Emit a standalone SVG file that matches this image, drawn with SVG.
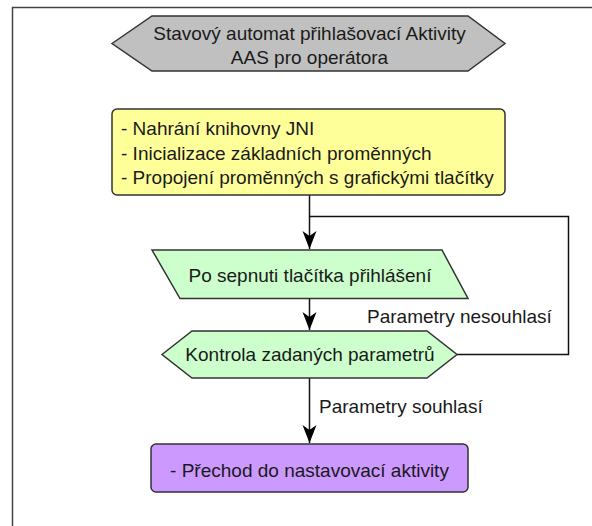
<svg xmlns="http://www.w3.org/2000/svg" width="592" height="526" viewBox="0 0 592 526">
<style>
.t{font-family:"Liberation Sans",Arial,sans-serif;font-size:19px;fill:#1a1a1a}
.c{text-anchor:middle}
.shape{stroke:#333;stroke-width:1.5}
.edge{fill:none;stroke:#111;stroke-width:1.5}
</style>
<defs>
<marker id="arr" markerUnits="userSpaceOnUse" markerWidth="20" markerHeight="16" viewBox="0 0 20 16" refX="19" refY="8" orient="auto">
<path d="M1,1 L6,8 L1,15 L19,8 Z" fill="#000"/>
</marker>
</defs>
<rect x="0" y="0" width="592" height="526" fill="#fff"/>
<path d="M12.5,526 V7.5 H592" fill="none" stroke="#444" stroke-width="1.5"/>
<g id="connectors">
<path class="edge" d="M309.5,195 V249" marker-end="url(#arr)"/>
<path class="edge" d="M309.5,298 V330" marker-end="url(#arr)"/>
<path class="edge" d="M309.5,378 V443" marker-end="url(#arr)"/>
<path class="edge" d="M457,354.5 H568.5 V216.5 H309.5"/>
<text class="t" x="367" y="323">Parametry nesouhlasí</text>
<text class="t" x="319" y="413">Parametry souhlasí</text>
</g>
<g id="title">
<polygon class="shape" points="112,43.5 152,16 468,16 505,43.5 468,71 152,71" fill="#c0c0c0"/>
<text class="t c" x="309.5" y="39.5">Stavový automat přihlašovací Aktivity</text>
<text class="t c" x="309.5" y="64">AAS pro operátora</text>
</g>
<g id="init">
<rect class="shape" x="112" y="109" width="393" height="86" rx="5" fill="#ffff99"/>
<text class="t" x="121" y="135">- Nahrání knihovny JNI</text>
<text class="t" x="121" y="159.5">- Inicializace základních proměnných</text>
<text class="t" x="121" y="184">- Propojení proměnných s grafickými tlačítky</text>
</g>
<g id="input">
<polygon class="shape" points="152,250 442,250 468,298.5 180,298.5" fill="#ccffcc"/>
<text class="t c" x="310" y="281.5">Po sepnuti tlačítka přihlášení</text>
</g>
<g id="check">
<polygon class="shape" points="162,354.5 192,331 427,331 457,354.5 427,378 192,378" fill="#ccffcc"/>
<text class="t c" x="310" y="361">Kontrola zadaných parametrů</text>
</g>
<g id="next">
<rect class="shape" x="151" y="444" width="317" height="48" rx="5" fill="#cc99ff"/>
<text class="t c" x="309.5" y="477">- Přechod do nastavovací aktivity</text>
</g>
</svg>
